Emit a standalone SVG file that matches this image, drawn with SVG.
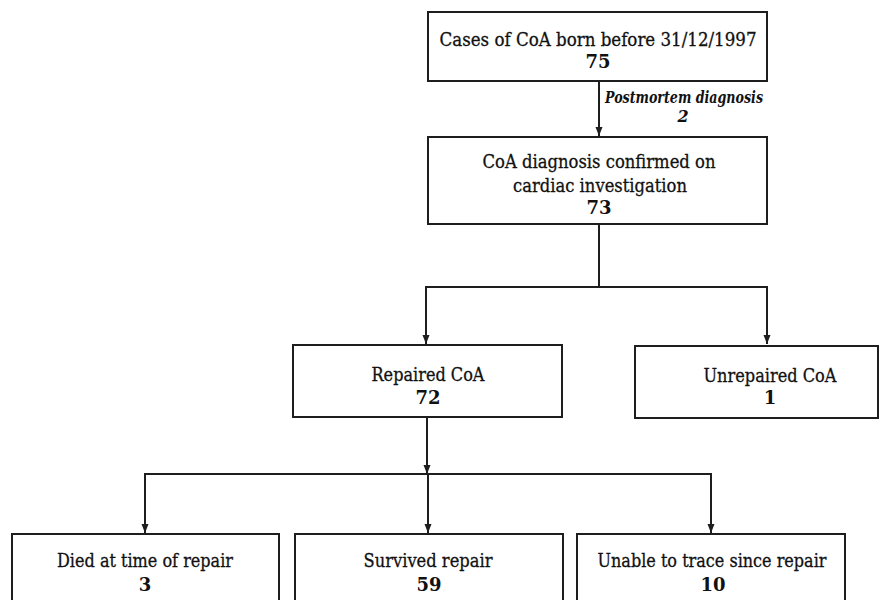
<svg xmlns="http://www.w3.org/2000/svg" width="889" height="600" viewBox="0 0 889 600">
<style>
.box{fill:#fff;stroke:#1e1e1e;stroke-width:2}
.ln{fill:none;stroke:#1e1e1e;stroke-width:2}
text{font-family:"DejaVu Serif","Liberation Serif",serif;font-size:18px;fill:#111;stroke:#111;stroke-width:0.3;text-anchor:middle}
.b{font-weight:bold;stroke-width:0}
.it{font-style:italic;font-weight:bold;font-size:16px;stroke-width:0}
</style>
<defs>
<marker id="ah" markerUnits="userSpaceOnUse" markerWidth="10" markerHeight="8" refX="9" refY="4" orient="auto">
<path d="M0,0.5 L9,4 L0,7.5 z" fill="#1e1e1e"/>
</marker>
</defs>
<g id="connectors">
<line class="ln" x1="599" y1="81" x2="599" y2="136" marker-end="url(#ah)"/>
<text class="it" x="684" y="103" textLength="158" lengthAdjust="spacingAndGlyphs">Postmortem diagnosis</text>
<text class="it" x="683" y="122">2</text>
<polyline class="ln" points="599,224 599,287"/>
<polyline class="ln" points="426,344 426,287 767,287 767,344" marker-end="url(#ah)"/>
<line class="ln" x1="426" y1="287" x2="426" y2="344" marker-end="url(#ah)"/>
<line class="ln" x1="427" y1="418" x2="427" y2="474" marker-end="url(#ah)"/>
<polyline class="ln" points="145,533 145,474 711,474 711,533" marker-end="url(#ah)"/>
<line class="ln" x1="145" y1="474" x2="145" y2="533" marker-end="url(#ah)"/>
<line class="ln" x1="428" y1="474" x2="428" y2="533" marker-end="url(#ah)"/>
</g>
<g id="n-cases">
<rect class="box" x="428" y="12" width="339" height="69"/>
<text x="598" y="46" textLength="317" lengthAdjust="spacingAndGlyphs">Cases of CoA born before 31/12/1997</text>
<text class="b" x="598" y="68">75</text>
</g>
<g id="n-confirmed">
<rect class="box" x="428" y="137" width="339" height="87"/>
<text x="599" y="168" textLength="233" lengthAdjust="spacingAndGlyphs">CoA diagnosis confirmed on</text>
<text x="600" y="192" textLength="174" lengthAdjust="spacingAndGlyphs">cardiac investigation</text>
<text class="b" x="599" y="214">73</text>
</g>
<g id="n-repaired">
<rect class="box" x="293" y="345" width="269" height="72"/>
<text x="428" y="381" textLength="113" lengthAdjust="spacingAndGlyphs">Repaired CoA</text>
<text class="b" x="428" y="404">72</text>
</g>
<g id="n-unrepaired">
<rect class="box" x="635" y="346" width="243" height="72"/>
<text x="770" y="382" textLength="133" lengthAdjust="spacingAndGlyphs">Unrepaired CoA</text>
<text class="b" x="770" y="404">1</text>
</g>
<g id="n-died">
<rect class="box" x="12" y="534" width="267" height="80"/>
<text x="145" y="567" textLength="176" lengthAdjust="spacingAndGlyphs">Died at time of repair</text>
<text class="b" x="145" y="591">3</text>
</g>
<g id="n-survived">
<rect class="box" x="295" y="534" width="268" height="80"/>
<text x="428" y="567" textLength="129" lengthAdjust="spacingAndGlyphs">Survived repair</text>
<text class="b" x="429" y="591">59</text>
</g>
<g id="n-unable">
<rect class="box" x="577" y="534" width="268" height="80"/>
<text x="712" y="567" textLength="229" lengthAdjust="spacingAndGlyphs">Unable to trace since repair</text>
<text class="b" x="713" y="591">10</text>
</g>
</svg>
